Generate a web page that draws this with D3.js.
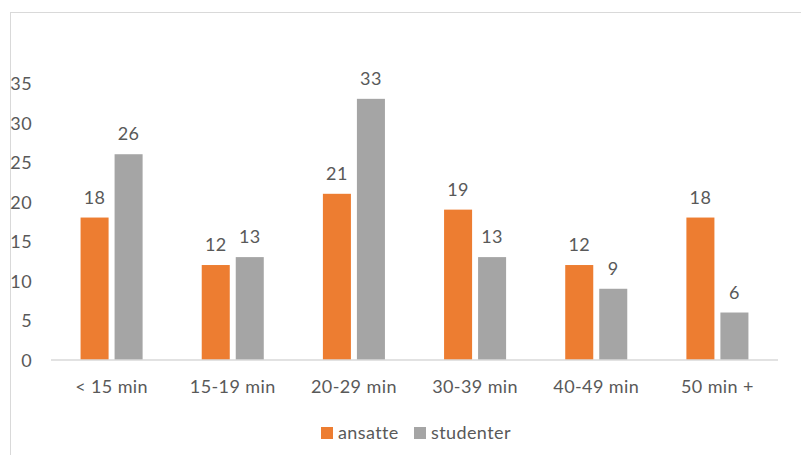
<!DOCTYPE html>
<html>
<head>
<meta charset="utf-8">
<script src="https://cdn.jsdelivr.net/npm/d3@7"></script>
<style>
  html, body { margin: 0; padding: 0; background: #fff; }
  svg { display: block; }
  text { font-family: Lato, "Open Sans", sans-serif; fill: #595959; letter-spacing: 0.4px; }
</style>
</head>
<body>
<svg id="chart" width="801" height="455"></svg>
<script>
// Travel time categories and the two series
const categories = ["< 15 min", "15-19 min", "20-29 min", "30-39 min", "40-49 min", "50 min +"];
const seriesNames = ["ansatte", "studenter"];
const ansatte = [18, 12, 21, 19, 12, 18];
const studenter = [26, 13, 33, 13, 9, 6];
const yTicks = [0, 5, 10, 15, 20, 25, 30, 35];
const colors = { ansatte: "#ED7D31", studenter: "#A5A5A5" };

const rows = categories.map((c, i) => ({ category: c, ansatte: ansatte[i], studenter: studenter[i] }));

const FONT = 18;
const FAMILY = "Lato, 'Open Sans', sans-serif";
const svg = d3.select("#chart");

// Chart frame (only top and left edges fall inside the view)
svg.append("rect")
  .attr("x", 10.5).attr("y", 12.5)
  .attr("width", 820).attr("height", 480)
  .attr("fill", "none").attr("stroke", "#D9D9D9").attr("stroke-width", 1);

const plot = { left: 51, right: 778, top: 83, bottom: 360 };

const x0 = d3.scaleBand()
  .domain(categories)
  .range([plot.left, plot.right])
  .paddingInner(0.488)
  .paddingOuter(0.244);

const x1 = d3.scaleBand()
  .domain(seriesNames)
  .range([0, x0.bandwidth()])
  .paddingInner(0.176);

const y = d3.scaleLinear()
  .domain([0, 35])
  .range([plot.bottom, plot.top]);

// Y axis labels (no axis line, no gridlines)
const yAxis = d3.axisLeft(y).tickValues(yTicks).tickSize(0).tickPadding(0);
const yg = svg.append("g")
  .attr("transform", `translate(32,0)`)
  .call(yAxis);
yg.select(".domain").remove();
yg.selectAll("text")
  .attr("font-size", FONT)
  .attr("dy", "0.36em")
  .style("font-family", FAMILY)
  .attr("fill", "#595959");

// Bars
const groups = svg.append("g").selectAll("g")
  .data(rows)
  .join("g")
  .attr("transform", d => `translate(${x0(d.category)},0)`);

groups.selectAll("rect")
  .data(d => seriesNames.map(k => ({ key: k, value: d[k] })))
  .join("rect")
  .attr("x", d => x1(d.key))
  .attr("y", d => y(d.value))
  .attr("width", x1.bandwidth())
  .attr("height", d => y(0) - y(d.value))
  .attr("fill", d => colors[d.key]);

// Value labels
groups.selectAll("text.val")
  .data(d => seriesNames.map(k => ({ key: k, value: d[k] })))
  .join("text")
  .attr("class", "val")
  .attr("x", d => x1(d.key) + x1.bandwidth() / 2)
  .attr("y", d => y(d.value) - 14)
  .attr("text-anchor", "middle")
  .attr("font-size", FONT)
  .attr("fill", "#404040")
  .text(d => d.value);

// X axis baseline and category labels
const xAxis = d3.axisBottom(x0).tickSize(0).tickPadding(0);
const xg = svg.append("g")
  .attr("transform", `translate(0,${plot.bottom})`)
  .call(xAxis);
xg.select(".domain")
  .attr("stroke", "#D9D9D9")
  .attr("stroke-width", 1.5)
  .attr("d", `M${plot.left},0H${plot.right}`);
xg.selectAll("text")
  .attr("font-size", FONT)
  .attr("y", 27)
  .attr("dy", "0.36em")
  .style("font-family", FAMILY)
  .attr("fill", "#595959");

// Legend
const legend = svg.append("g").attr("transform", "translate(321,427)");
const legendX = [0, 93];
seriesNames.forEach((name, i) => {
  const g = legend.append("g").attr("transform", `translate(${legendX[i]},0)`);
  g.append("rect").attr("width", 12).attr("height", 12).attr("fill", colors[name]);
  g.append("text").attr("x", 17).attr("y", 6).attr("dy", "0.36em")
    .attr("font-size", FONT).text(name);
});
</script>
</body>
</html>
